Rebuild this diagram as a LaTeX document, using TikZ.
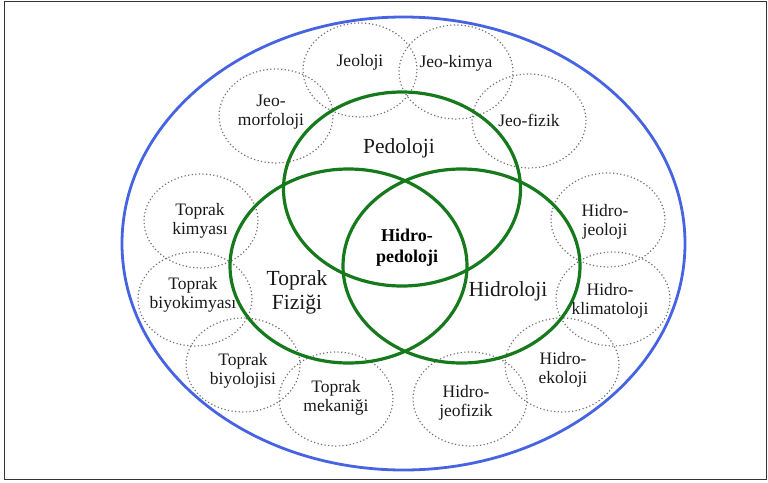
\documentclass[tikz,border=0pt]{standalone}
\usepackage{fontspec}
\setmainfont{Liberation Serif}
\usetikzlibrary{shapes.geometric}
\definecolor{venngreen}{RGB}{22,122,28}
\definecolor{rimblue}{RGB}{70,100,225}

\begin{document}
\begin{tikzpicture}[
  x=1pt, y=-1pt,
  subfield/.style={ellipse, draw=black!55, dash pattern=on 1.2pt off 2.4pt, line width=1.2pt, minimum width=114pt, minimum height=94pt},
  mainfield/.style={ellipse, draw=venngreen, line width=3.2pt, minimum width=237pt, minimum height=194pt},
  subtxt/.style={align=center, text=black!90, font=\fontsize{17.5}{19}\selectfont},
  maintxt/.style={align=center, text=black!90, font=\fontsize{21.5}{24}\selectfont},
  coretxt/.style={align=center, text=black, font=\fontsize{18}{21}\selectfont\bfseries}
]
\useasboundingbox (0,0) rectangle (768,482);
\draw[black!80, line width=0.9pt] (4.5,1.5) rectangle (766,479);

% side fields
\node[subfield] (jeoloji)  at (360,70)  {};
\node[subfield] (jeokimya) at (456,72)  {};
\node[subfield] (jeomorf)  at (276,116) {};
\node[subfield] (jeofizik) at (529,121) {};
\node[subfield] (tkimya)   at (201,221) {};
\node[subfield] (tbiyokim) at (195,299) {};
\node[subfield] (tbiyo)    at (243,365) {};
\node[subfield] (tmekanik) at (336,399) {};
\node[subfield] (hjeofiz)  at (470,399) {};
\node[subfield] (hekoloji) at (562,365) {};
\node[subfield] (hklimato) at (613,299) {};
\node[subfield] (hjeoloji) at (608,220) {};

% outer rim
\node[ellipse, draw=rimblue, line width=2.8pt, minimum width=563pt, minimum height=453pt] (rim) at (403.5,243.5) {};

% main fields
\node[mainfield] (pedo)  at (402,189) {};
\node[mainfield] (toprak) at (348.5,266) {};
\node[mainfield] (hidro) at (461.5,266) {};

% texts
\node[subtxt] (t-jeoloji)  at (360,62)  {Jeoloji};
\node[subtxt] (t-jeokimya) at (456,63)  {Jeo-kimya};
\node[subtxt] (t-jeomorf)  at (271,112) {Jeo-\\morfoloji};
\node[subtxt] (t-jeofizik) at (529,120) {Jeo-fizik};
\node[subtxt] (t-tkimya)   at (200,221) {Toprak\\kimyası};
\node[subtxt] (t-tbiyokim) at (193,295) {Toprak\\biyokimyası};
\node[subtxt] (t-tbiyo)    at (243,371) {Toprak\\biyolojisi};
\node[subtxt] (t-tmekanik) at (336,398) {Toprak\\mekaniği};
\node[subtxt] (t-hjeofiz)  at (466,403) {Hidro-\\jeofizik};
\node[subtxt] (t-hekoloji) at (563,370) {Hidro-\\ekoloji};
\node[subtxt] (t-hklimato) at (610,301) {Hidro-\\klimatoloji};
\node[subtxt] (t-hjeoloji) at (605,222) {Hidro-\\jeoloji};

\node[maintxt] (t-pedo)   at (399,148) {Pedoloji};
\node[maintxt] (t-toprak) at (297,292) {Toprak\\Fiziği};
\node[maintxt] (t-hidro)  at (508,291) {Hidroloji};
\node[coretxt] (t-core)   at (407,248) {Hidro-\\pedoloji};
\end{tikzpicture}
\end{document}
